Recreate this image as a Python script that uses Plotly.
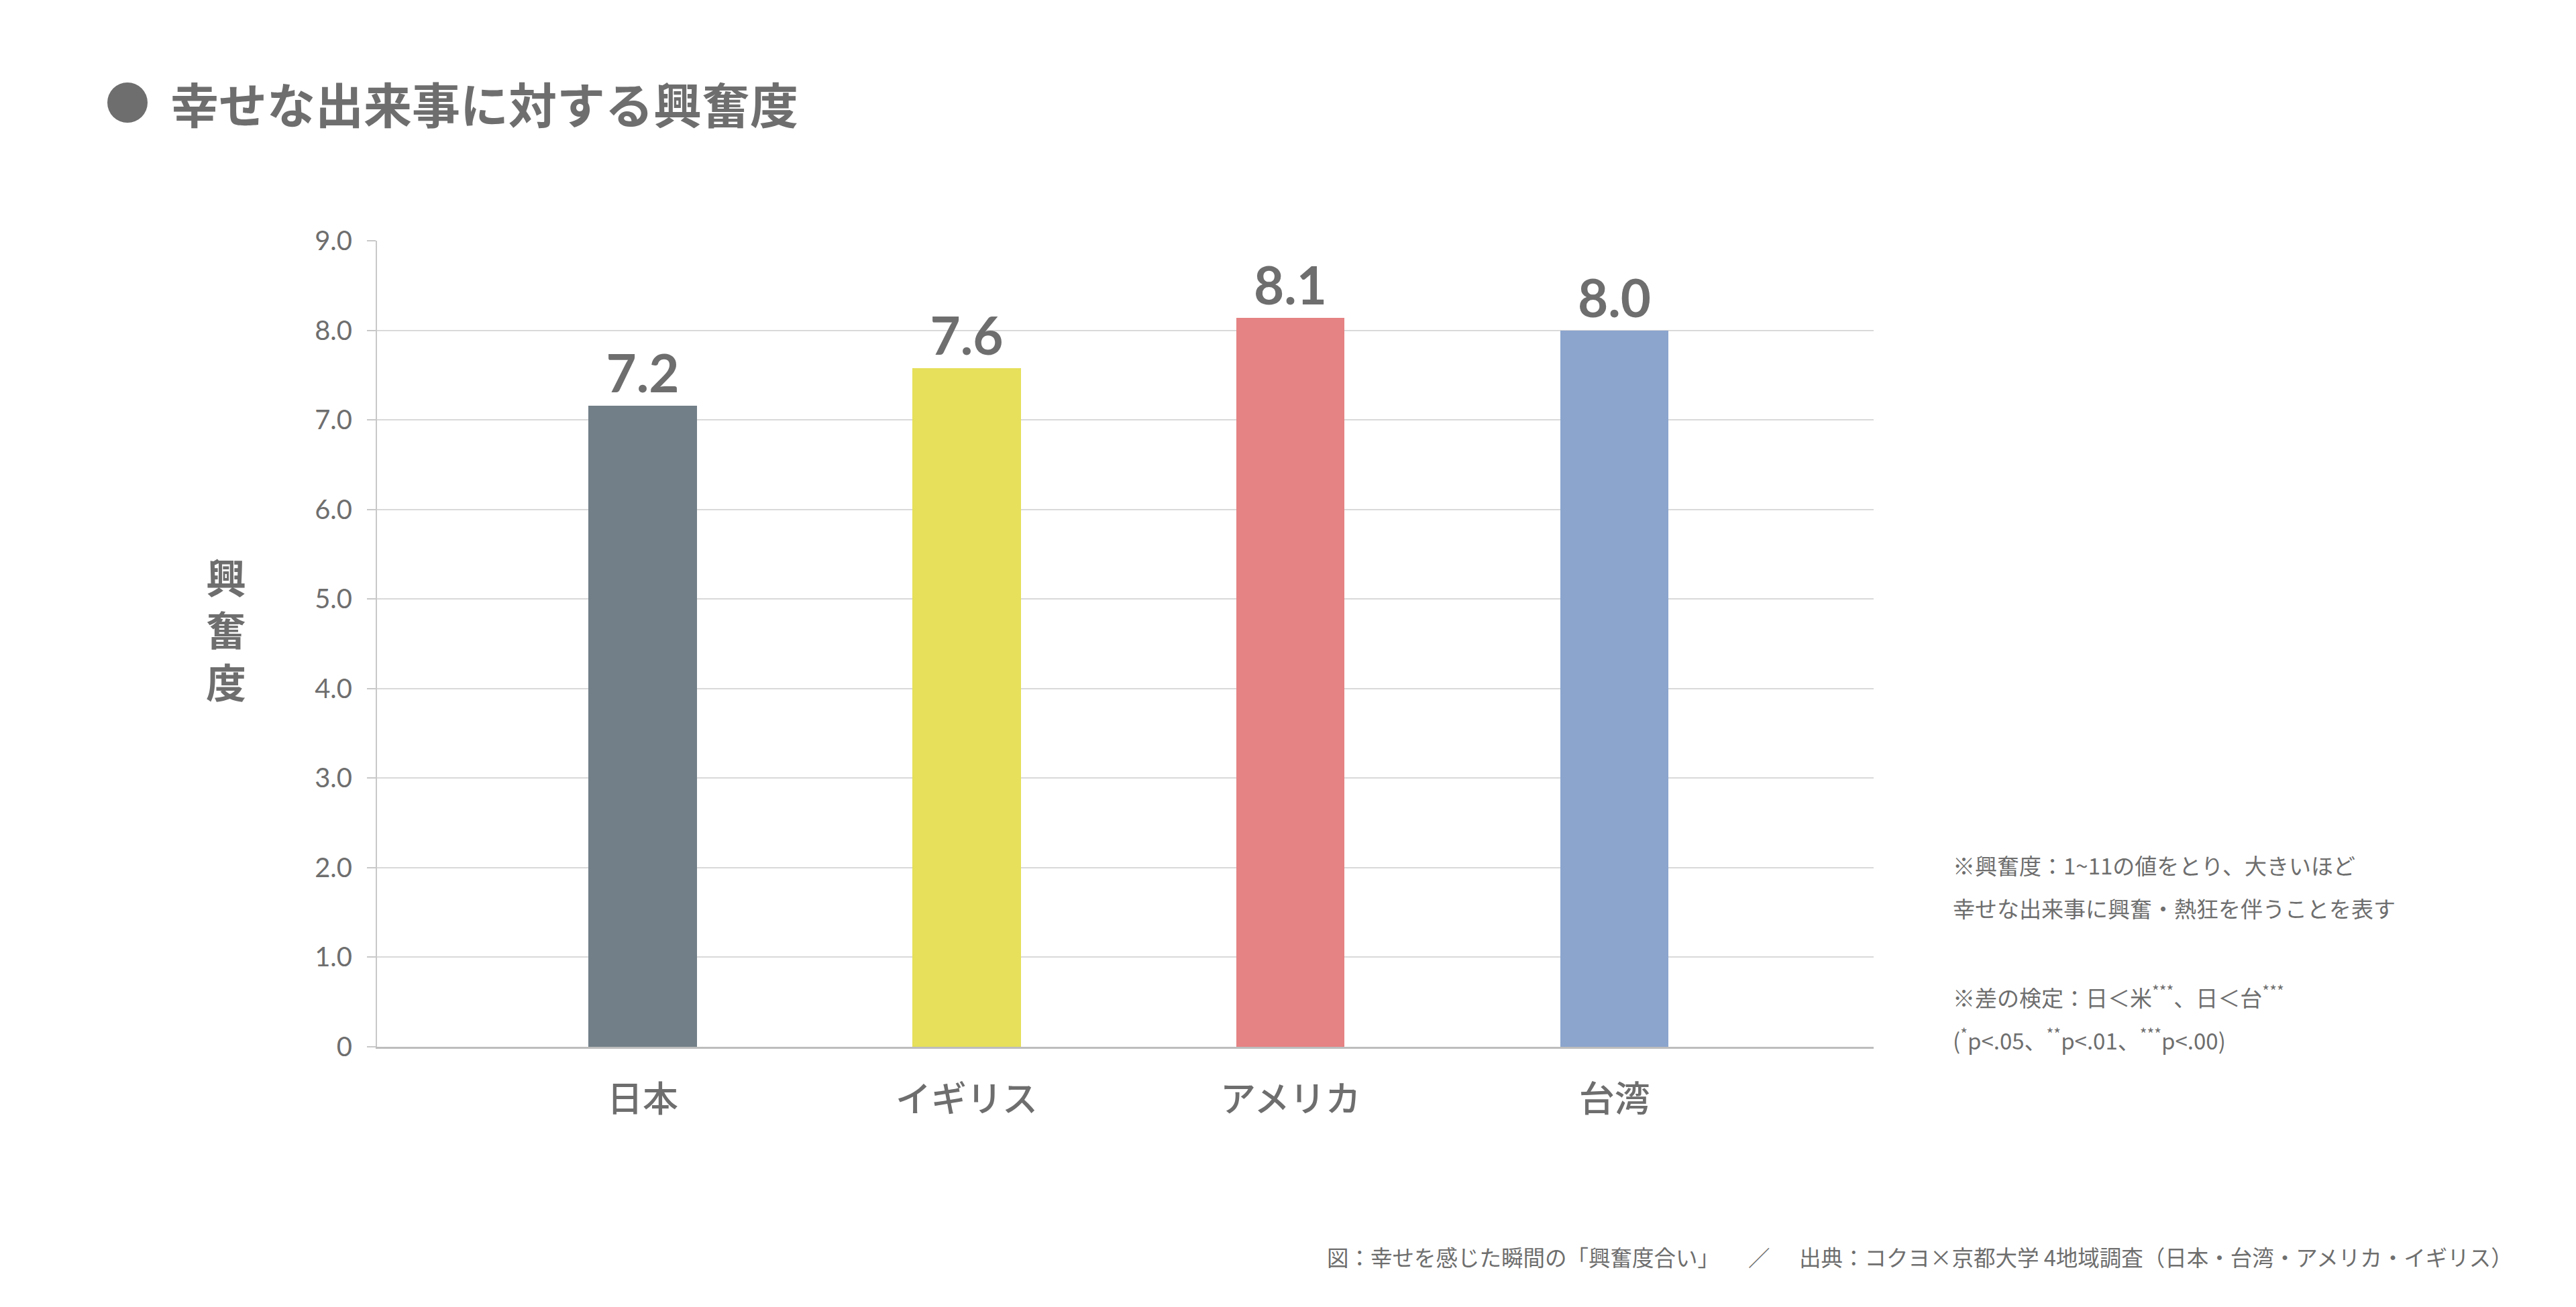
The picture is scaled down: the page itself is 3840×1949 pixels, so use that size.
import plotly.graph_objects as go

# ---- data ----
categories = ["日本", "イギリス", "アメリカ", "台湾"]
values = [7.16, 7.58, 8.14, 8.00]
value_labels = ["7.2", "7.6", "8.1", "8.0"]
bar_colors = ["#727f88", "#e6e05b", "#e58283", "#8ba5cd"]
y_tickvals = [0, 1, 2, 3, 4, 5, 6, 7, 8, 9]
y_ticktext = ["0", "1.0", "2.0", "3.0", "4.0", "5.0", "6.0", "7.0", "8.0", "9.0"]

title_text = "幸せな出来事に対する興奮度"
y_title_chars = ["興", "奮", "度"]
note_lines = [
    "※興奮度：1~11の値をとり、大きいほど",
    "幸せな出来事に興奮・熱狂を伴うことを表す",
    "※差の検定：日＜米<sup>***</sup>、日＜台<sup>***</sup>",
    "(<sup>*</sup>p&lt;.05、<sup>**</sup>p&lt;.01、<sup>***</sup>p&lt;.00)",
]
footer_left = "図：幸せを感じた瞬間の「興奮度合い」"
footer_slash = "／"
footer_right = "出典：コクヨ×京都大学 4地域調査（日本・台湾・アメリカ・イギリス）"

# ---- layout geometry (pixels) ----
W, H = 3840, 1949
PL, PR, PT, PB = 562, 2793, 359, 1561  # plot area edges

GRAY = "#6e6e6e"
CJK = "Noto Sans CJK JP"


def px(x):
    return (x - PL) / (PR - PL)


def py(y):
    return (PB - y) / (PB - PT)


fig = go.Figure()
fig.add_trace(go.Bar(
    x=categories,
    y=values,
    width=0.334,
    marker=dict(color=bar_colors, line=dict(width=0)),
    text=value_labels,
    textposition="outside",
    constraintext="none",
    cliponaxis=False,
    textfont=dict(family="Lato", size=78, color=GRAY, weight="bold"),
    hoverinfo="skip",
))

annotations = []
# y-axis title, stacked vertically
annotations.append(dict(
    x=px(337), y=py(936), xref="paper", yref="paper",
    text="<br>".join(y_title_chars), showarrow=False,
    xanchor="center", yanchor="middle", align="center",
    font=dict(family=CJK, size=60, color=GRAY, weight="bold"),
))
# chart title
annotations.append(dict(
    x=px(252), y=py(153), xref="paper", yref="paper",
    text=title_text, showarrow=False, xanchor="left", yanchor="middle",
    font=dict(family=CJK, size=72, color=GRAY, weight="bold"),
))
# notes
for line, yc in zip(note_lines, [1290, 1354, 1485, 1549]):
    annotations.append(dict(
        x=px(2909), y=py(yc), xref="paper", yref="paper",
        text=line, showarrow=False, xanchor="left", yanchor="middle",
        font=dict(family=CJK, size=33, color=GRAY),
    ))
# footer
annotations.append(dict(
    x=px(1976), y=py(1873), xref="paper", yref="paper", text=footer_left,
    showarrow=False, xanchor="left", yanchor="middle",
    font=dict(family=CJK, size=32.5, color=GRAY),
))
annotations.append(dict(
    x=px(2622), y=py(1873), xref="paper", yref="paper", text=footer_slash,
    showarrow=False, xanchor="center", yanchor="middle",
    font=dict(family=CJK, size=32.5, color=GRAY),
))
annotations.append(dict(
    x=px(3748), y=py(1873), xref="paper", yref="paper", text=footer_right,
    showarrow=False, xanchor="right", yanchor="middle",
    font=dict(family=CJK, size=32.5, color=GRAY),
))

fig.update_layout(
    width=W, height=H,
    margin=dict(l=PL, r=W - PR, t=PT, b=H - PB, pad=0),
    paper_bgcolor="white", plot_bgcolor="white",
    showlegend=False,
    bargap=0,
    annotations=annotations,
    shapes=[dict(
        type="circle", xref="paper", yref="paper",
        x0=px(160), x1=px(220), y0=py(183), y1=py(123),
        fillcolor=GRAY, line=dict(width=0),
    )],
    xaxis=dict(
        type="category",
        range=[-0.82, 3.80],
        showgrid=False,
        showline=True, linecolor="#bdbdbd", linewidth=3,
        ticks="",
        ticklabelstandoff=30,
        tickfont=dict(family=CJK, size=53, color=GRAY, weight=500),
        fixedrange=True,
    ),
    yaxis=dict(
        range=[0, 9],
        tickvals=y_tickvals, ticktext=y_ticktext,
        showgrid=True, gridcolor="#d9d9d9", gridwidth=2,
        zeroline=False,
        showline=True, linecolor="#c8c8c8", linewidth=2,
        ticks="outside", ticklen=13, tickcolor="#c8c8c8", tickwidth=2,
        ticklabelstandoff=14,
        tickfont=dict(family="Lato", size=40, color=GRAY),
        fixedrange=True,
    ),
)

fig.write_html(
    "out.html",
    config={"displayModeBar": False},
    post_script="document.body.style.margin='0';",
)
